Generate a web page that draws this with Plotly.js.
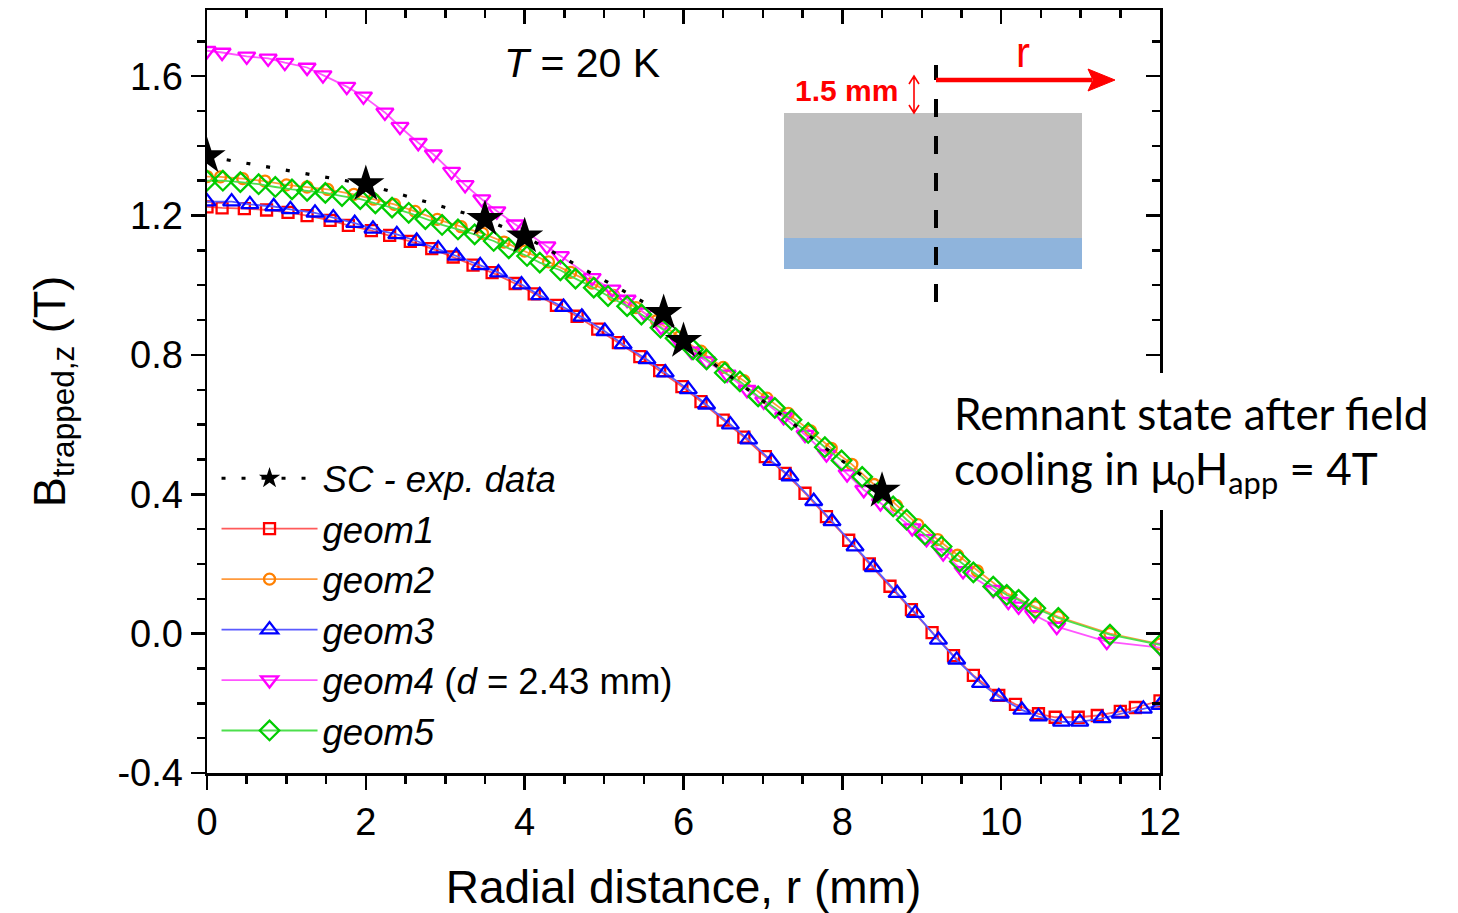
<!DOCTYPE html>
<html>
<head>
<meta charset="utf-8">
<script src="https://cdn.plot.ly/plotly-3.0.1.min.js"></script>
<style>
  html, body { margin: 0; padding: 0; background: #ffffff; }
  #chart { width: 1458px; height: 913px; }
</style>
</head>
<body>
<div id="chart"></div>
<script>
// Trapped field B_z versus radial distance at T = 20 K

// Experimental points (SC)
const expR = [0, 2, 3.5, 4, 5.75, 6, 8.5];
const expB = [1.37, 1.29, 1.19, 1.14, 0.92, 0.84, 0.41];

// geom1
const g1R = [0, 0.19, 0.47, 0.75, 1.02, 1.26, 1.55, 1.78, 2.07, 2.30, 2.56, 2.83, 3.10, 3.35, 3.59, 3.88, 4.12, 4.40, 4.66, 4.92, 5.18, 5.45, 5.70, 5.98, 6.22, 6.50, 6.76, 7.03, 7.28, 7.53, 7.80, 8.08, 8.34, 8.60, 8.87, 9.13, 9.40, 9.65, 9.97, 10.18, 10.47, 10.68, 10.97, 11.21, 11.50, 11.69, 12];
const g1B = [1.225, 1.222, 1.220, 1.216, 1.209, 1.200, 1.186, 1.172, 1.157, 1.143, 1.126, 1.105, 1.081, 1.058, 1.036, 1.005, 0.975, 0.942, 0.911, 0.874, 0.835, 0.795, 0.755, 0.709, 0.666, 0.613, 0.564, 0.508, 0.460, 0.403, 0.336, 0.268, 0.200, 0.136, 0.069, 0.003, -0.063, -0.120, -0.177, -0.203, -0.230, -0.240, -0.240, -0.235, -0.223, -0.212, -0.193];

// geom2
const g2R = [0, 0.17, 0.45, 0.73, 1.00, 1.26, 1.52, 1.85, 2.10, 2.36, 2.62, 2.90, 3.20, 3.47, 3.74, 4.00, 4.30, 4.58, 4.85, 5.12, 5.40, 5.66, 5.95, 6.22, 6.50, 6.76, 7.05, 7.32, 7.60, 7.86, 8.12, 8.40, 8.68, 8.95, 9.20, 9.45, 9.70, 10.07, 10.43, 10.72, 11.37, 12];
const g2B = [1.312, 1.311, 1.306, 1.299, 1.288, 1.282, 1.275, 1.261, 1.247, 1.232, 1.212, 1.189, 1.168, 1.149, 1.124, 1.098, 1.067, 1.037, 1.006, 0.971, 0.936, 0.898, 0.852, 0.811, 0.764, 0.726, 0.676, 0.632, 0.582, 0.532, 0.486, 0.428, 0.368, 0.313, 0.270, 0.225, 0.180, 0.116, 0.077, 0.048, 0.000, -0.030];

// geom3
const g3R = [0, 0.31, 0.54, 0.84, 1.05, 1.36, 1.59, 1.86, 2.09, 2.39, 2.64, 2.91, 3.14, 3.44, 3.67, 3.96, 4.19, 4.49, 4.72, 5.01, 5.24, 5.54, 5.77, 6.06, 6.29, 6.59, 6.82, 7.11, 7.34, 7.64, 7.87, 8.16, 8.39, 8.69, 8.92, 9.21, 9.44, 9.74, 9.97, 10.26, 10.47, 10.76, 10.99, 11.27, 11.50, 11.79, 12];
const g3B = [1.240, 1.240, 1.232, 1.226, 1.218, 1.208, 1.194, 1.178, 1.162, 1.146, 1.127, 1.105, 1.084, 1.057, 1.036, 1.002, 0.971, 0.937, 0.909, 0.868, 0.830, 0.787, 0.749, 0.701, 0.657, 0.600, 0.557, 0.495, 0.451, 0.380, 0.322, 0.250, 0.190, 0.116, 0.059, -0.018, -0.075, -0.142, -0.181, -0.219, -0.238, -0.253, -0.253, -0.243, -0.230, -0.216, -0.205];

// geom4 (d = 2.43 mm)
const g4R = [0, 0.19, 0.50, 0.77, 0.98, 1.26, 1.46, 1.76, 1.97, 2.24, 2.43, 2.66, 2.85, 3.08, 3.25, 3.46, 3.65, 3.88, 4.28, 4.45, 4.85, 5.10, 5.29, 5.50, 5.72, 5.95, 6.10, 6.29, 6.55, 6.80, 7.01, 7.26, 7.53, 7.80, 8.06, 8.27, 8.48, 8.88, 9.06, 9.27, 9.52, 9.90, 10.09, 10.22, 10.41, 10.70, 11.33, 12];
const g4B = [1.673, 1.668, 1.657, 1.651, 1.639, 1.625, 1.603, 1.570, 1.542, 1.496, 1.455, 1.409, 1.376, 1.326, 1.288, 1.247, 1.213, 1.175, 1.112, 1.084, 1.021, 0.988, 0.959, 0.922, 0.880, 0.836, 0.810, 0.782, 0.744, 0.700, 0.667, 0.622, 0.571, 0.515, 0.458, 0.413, 0.375, 0.303, 0.272, 0.231, 0.180, 0.126, 0.092, 0.078, 0.054, 0.020, -0.023, -0.040];

// geom5
const g5R = [0, 0.20, 0.42, 0.65, 0.86, 1.07, 1.26, 1.49, 1.70, 1.93, 2.12, 2.33, 2.54, 2.75, 2.96, 3.16, 3.37, 3.61, 3.80, 4.03, 4.19, 4.45, 4.64, 4.87, 5.05, 5.29, 5.47, 5.71, 5.90, 6.12, 6.29, 6.52, 6.71, 6.94, 7.15, 7.36, 7.57, 7.78, 7.99, 8.25, 8.45, 8.64, 8.81, 9.04, 9.25, 9.48, 9.65, 9.90, 10.07, 10.22, 10.43, 10.72, 11.37, 12];
const g5B = [1.300, 1.300, 1.296, 1.290, 1.282, 1.275, 1.271, 1.265, 1.256, 1.247, 1.235, 1.223, 1.208, 1.190, 1.173, 1.160, 1.146, 1.127, 1.106, 1.084, 1.065, 1.043, 1.019, 0.993, 0.969, 0.940, 0.916, 0.878, 0.848, 0.816, 0.787, 0.749, 0.724, 0.681, 0.648, 0.614, 0.576, 0.535, 0.497, 0.450, 0.405, 0.365, 0.327, 0.284, 0.250, 0.207, 0.176, 0.135, 0.111, 0.097, 0.073, 0.045, -0.003, -0.032];

const seriesNames = ['<i>SC - exp. data</i>', '<i>geom1</i>', '<i>geom2</i>', '<i>geom3</i>', '<i>geom4</i> (<i>d</i> = 2.43 mm)', '<i>geom5</i>'];

// axis tick labels
const xTickVals = [0, 2, 4, 6, 8, 10, 12];
const xTickText = ['0', '2', '4', '6', '8', '10', '12'];
const yTickVals = [-0.4, 0, 0.4, 0.8, 1.2, 1.6];
const yTickText = ['-0.4', '0.0', '0.4', '0.8', '1.2', '1.6'];

const FONT = 'Liberation Sans, Arial, sans-serif';

function simTrace(x, y, name, rank, lineColor, markColor, symbol, size) {
  return {
    x: x, y: y, name: name, legendrank: rank,
    type: 'scatter', mode: 'lines+markers',
    line: { color: lineColor, width: 1.8 },
    marker: { symbol: symbol, size: size, color: markColor,
              line: { color: markColor, width: 2.3 } },
    hoverinfo: 'x+y'
  };
}

const traces = [
  simTrace(g1R, g1B, seriesNames[1], 2, '#ff5a5a', '#ff0000', 'square-open', 11),
  simTrace(g2R, g2B, seriesNames[2], 3, '#ff9a3c', '#ff8000', 'circle-open', 11),
  simTrace(g3R, g3B, seriesNames[3], 4, '#5a5aff', '#0000ff', 'triangle-up-open', 15),
  simTrace(g4R, g4B, seriesNames[4], 5, '#ff55ff', '#ff00ff', 'triangle-down-open', 15),
  simTrace(g5R, g5B, seriesNames[5], 6, '#4ddf4d', '#00cc00', 'diamond-open', 15),
  {
    x: expR, y: expB, name: seriesNames[0], legendrank: 1,
    type: 'scatter', mode: 'lines+markers',
    line: { color: '#000000', width: 3.2, dash: '4px,16px' },
    marker: { symbol: 'star', size: 28, color: '#000000' },
    hoverinfo: 'x+y'
  },
  // carries the mirrored top / right axes
  { x: [0], y: [0], xaxis: 'x2', yaxis: 'y2', mode: 'markers',
    marker: { opacity: 0 }, showlegend: false, hoverinfo: 'skip' }
];

const axisCommon = {
  showgrid: false, zeroline: false, showline: true,
  linecolor: '#000000', linewidth: 2.5,
  tickcolor: '#000000', tickwidth: 2.5, ticklen: 14
};

// pixel -> paper helpers for the inset sketch
const L = 207, R = 1160, T = 10, B = 773;
const px = v => (v - L) / (R - L);
const py = v => (B - v) / (B - T);

const shapes = [
  // sample cross-section
  { type: 'rect', xref: 'paper', yref: 'paper', x0: px(784), x1: px(1082), y0: py(238), y1: py(113),
    fillcolor: '#c0c0c0', line: { width: 0 }, layer: 'above' },
  { type: 'rect', xref: 'paper', yref: 'paper', x0: px(784), x1: px(1082), y0: py(269), y1: py(238),
    fillcolor: '#8fb4dc', line: { width: 0 }, layer: 'above' },
  // symmetry axis
  { type: 'line', xref: 'paper', yref: 'paper', x0: px(936), x1: px(936), y0: py(302), y1: py(65),
    line: { color: '#000000', width: 4, dash: '18px,19px' }, layer: 'above' },
  // radial direction arrow
  { type: 'line', xref: 'paper', yref: 'paper', x0: px(936), x1: px(1092), y0: py(80), y1: py(80),
    line: { color: '#ff0000', width: 4.5 }, layer: 'above' },
  { type: 'path', xref: 'paper', yref: 'paper', layer: 'above',
    path: `M ${px(1088)},${py(69)} L ${px(1115)},${py(80)} L ${px(1088)},${py(91)} L ${px(1093)},${py(80)} Z`,
    fillcolor: '#ff0000', line: { color: '#ff0000', width: 1 } },
  // 1.5 mm gap marker
  { type: 'path', xref: 'paper', yref: 'paper', layer: 'above',
    path: `M ${px(914)},${py(76)} L ${px(914)},${py(113)} M ${px(909)},${py(84)} L ${px(914)},${py(76)} L ${px(919)},${py(84)} M ${px(909)},${py(105)} L ${px(914)},${py(113)} L ${px(919)},${py(105)}`,
    line: { color: '#ff0000', width: 1.6 } },
  // note panel
  { type: 'rect', xref: 'paper', yref: 'paper', x0: px(945), x1: px(1458), y0: py(510), y1: py(373),
    fillcolor: '#ffffff', line: { width: 0 }, layer: 'above' }
];

const annotations = [
  { xref: 'paper', yref: 'paper', x: px(582), y: py(63), text: '<i>T</i> = 20 K', showarrow: false,
    xanchor: 'center', yanchor: 'middle', font: { family: FONT, size: 41, color: '#000000' } },
  { xref: 'paper', yref: 'paper', x: px(1023), y: py(52), text: 'r', showarrow: false,
    xanchor: 'center', yanchor: 'middle', font: { family: FONT, size: 42, color: '#ff0000' } },
  { xref: 'paper', yref: 'paper', x: px(846), y: py(90), text: '<b>1.5 mm</b>', showarrow: false,
    xanchor: 'center', yanchor: 'middle', font: { family: FONT, size: 30, color: '#ff0000' } },
  { xref: 'paper', yref: 'paper', x: px(952), y: py(413), text: 'Remnant state after field', showarrow: false,
    xanchor: 'left', yanchor: 'middle', font: { family: 'Lato, sans-serif', size: 44, color: '#000000' } },
  { xref: 'paper', yref: 'paper', x: px(952), y: py(471), text: 'cooling in μ<sub>0</sub>H<sub>app</sub> = 4T', showarrow: false,
    xanchor: 'left', yanchor: 'middle', font: { family: 'Lato, sans-serif', size: 44, color: '#000000' } }
];

const layout = {
  width: 1458, height: 913,
  margin: { l: L, r: 1458 - R, t: T, b: 913 - B },
  paper_bgcolor: '#ffffff', plot_bgcolor: '#ffffff',
  font: { family: FONT, color: '#000000' },
  showlegend: true,
  legend: {
    x: 0.01, y: py(448), xanchor: 'left', yanchor: 'top',
    bgcolor: 'rgba(0,0,0,0)', borderwidth: 0,
    font: { family: FONT, size: 36.5, color: '#000000' },
    itemwidth: 96, tracegroupgap: 0
  },
  xaxis: Object.assign({}, axisCommon, {
    range: [0, 12], tickmode: 'array', tickvals: xTickVals, ticktext: xTickText, ticks: 'outside',
    tickfont: { family: FONT, size: 38 },
    minor: { tickmode: 'linear', tick0: 0, dtick: 0.5, ticks: 'outside', ticklen: 8, tickwidth: 2.5, tickcolor: '#000000' },
    title: { text: 'Radial distance, r (mm)', font: { family: FONT, size: 46 }, standoff: 30 }
  }),
  yaxis: Object.assign({}, axisCommon, {
    range: [-0.4, 1.79], tickmode: 'array', tickvals: yTickVals, ticktext: yTickText, ticks: 'outside',
    tickfont: { family: FONT, size: 38 },
    minor: { tickmode: 'linear', tick0: 0, dtick: 0.1, ticks: 'outside', ticklen: 8, tickwidth: 2.5, tickcolor: '#000000' },
    title: { text: 'B<sub>trapped,z</sub> (T)', font: { family: FONT, size: 45 }, standoff: 38 }
  }),
  xaxis2: Object.assign({}, axisCommon, {
    range: [0, 12], tick0: 0, dtick: 2, ticks: 'inside', side: 'top',
    overlaying: 'x', anchor: 'y', showticklabels: false,
    minor: { dtick: 0.5, ticks: 'inside', ticklen: 8, tickwidth: 2.5, tickcolor: '#000000' }
  }),
  yaxis2: Object.assign({}, axisCommon, {
    range: [-0.4, 1.79], tick0: 0, dtick: 0.4, ticks: 'inside', side: 'right',
    overlaying: 'y', anchor: 'x', showticklabels: false,
    minor: { dtick: 0.1, ticks: 'inside', ticklen: 8, tickwidth: 2.5, tickcolor: '#000000' }
  }),
  shapes: shapes,
  annotations: annotations
};

Plotly.newPlot('chart', traces, layout, { displayModeBar: false, staticPlot: true });
</script>
</body>
</html>
